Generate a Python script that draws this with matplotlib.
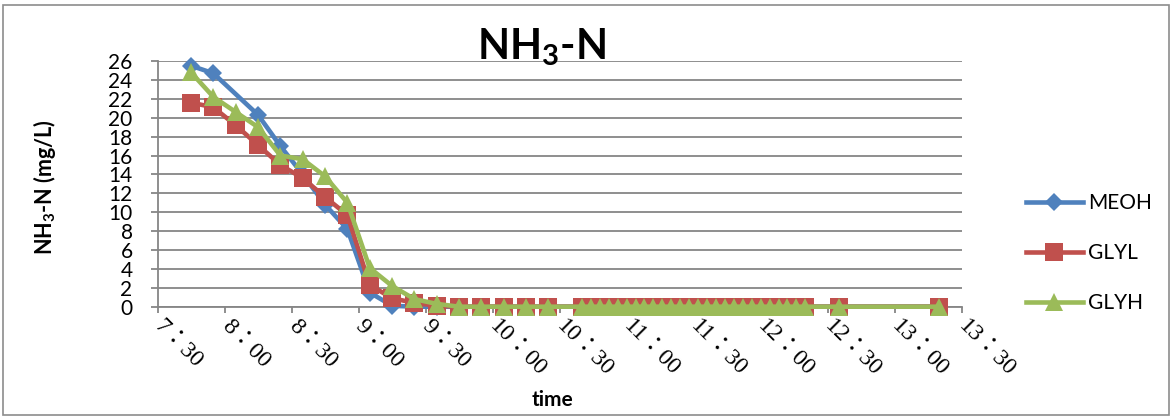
import numpy as np
import matplotlib
matplotlib.use("Agg")
import matplotlib.pyplot as plt
from matplotlib.patches import Rectangle
from matplotlib.font_manager import FontProperties

# ---- data ----
times = ['7:45', '7:55', '8:05', '8:15', '8:25', '8:35', '8:45', '8:55', '9:05', '9:15',
         '9:25', '9:35', '9:45', '9:55', '10:05', '10:15', '10:25',
         '10:40', '10:44', '10:48', '10:52', '10:56', '11:00', '11:04', '11:08', '11:12',
         '11:16', '11:20', '11:24', '11:28', '11:32', '11:36', '11:40', '11:44', '11:48',
         '11:52', '11:56', '12:00', '12:04', '12:08', '12:12', '12:16', '12:20',
         '12:35', '13:20']
nan = float('nan')
meoh = [25.5, 24.7, nan, 20.3, 17.0, 14.0, 10.8, 8.2, 1.5, 0.1,
        0, 0, 0, 0, 0, 0, 0,
        0, 0, 0, 0, 0, 0, 0, 0, 0, 0, 0, 0, 0, 0, 0, 0, 0, 0, 0, 0, 0, 0, 0, 0, 0, 0,
        0, 0]
glyl = [21.6, 21.1, 19.2, 17.1, 15.0, 13.6, 11.6, 9.7, 2.3, 0.9,
        0.4, 0.1, 0, 0, 0, 0, 0,
        0, 0, 0, 0, 0, 0, 0, 0, 0, 0, 0, 0, 0, 0, 0, 0, 0, 0, 0, 0, 0, 0, 0, 0, 0, 0,
        0, 0]
glyh = [24.8, 22.2, 20.6, 19.0, 16.0, 15.6, 13.8, 11.0, 4.1, 2.2,
        0.8, 0.3, 0, 0, 0, 0, 0,
        0, 0, 0, 0, 0, 0, 0, 0, 0, 0, 0, 0, 0, 0, 0, 0, 0, 0, 0, 0, 0, 0, 0, 0, 0, 0,
        0, 0]
series_names = ['MEOH', 'GLYL', 'GLYH']
xtick_labels = ['7:30', '8:00', '8:30', '9:00', '9:30', '10:00', '10:30', '11:00',
                '11:30', '12:00', '12:30', '13:00', '13:30']
yticks = [0, 2, 4, 6, 8, 10, 12, 14, 16, 18, 20, 22, 24, 26]


def to_min(s):
    h, m = s.split(':')
    return int(h) * 60 + int(m)


plt.rcParams['mathtext.fontset'] = 'custom'
plt.rcParams['mathtext.rm'] = 'Lato:bold'
plt.rcParams['mathtext.it'] = 'Lato:bold'
plt.rcParams['mathtext.bf'] = 'Lato:bold'

W, H = 1172, 418
fig = plt.figure(figsize=(W / 100, H / 100), dpi=100)
fig.patch.set_facecolor('white')

# outer border
fig.patches.append(Rectangle((3 / W, 3 / H), 1166 / W, 410 / H, transform=fig.transFigure,
                             fill=False, edgecolor='#8c8c8c', lw=1.2))

x0, x1 = 157.5, 961.7
y0, y1 = 306.7, 61
ax = fig.add_axes([x0 / W, 1 - y0 / H, (x1 - x0) / W, (y0 - y1) / H])

x = np.array([to_min(t) for t in times], dtype=float)
colors = ['#4F81BD', '#C0504D', '#9BBB59']
markers = ['D', 's', '^']
msizes = [9.5, 13, 13]
for name, vals, c, mk, ms in zip(series_names, [meoh, glyl, glyh], colors, markers, msizes):
    v = np.array(vals, dtype=float)
    m = ~np.isnan(v)
    ax.plot(x[m], v[m], color=c, lw=3.3, marker=mk, markersize=ms, markeredgewidth=0,
            label=name, clip_on=False, zorder=3)

ax.set_xlim(to_min('7:30'), to_min('13:30'))
ax.set_ylim(0, 26)
ax.set_yticks(yticks)
ax.set_yticklabels([str(v) for v in yticks], fontfamily='Lato', fontsize=15)
ax.set_xticks([to_min(t) for t in xtick_labels])
xfp = FontProperties(family=['Liberation Serif', 'Noto Sans CJK JP'], size=17)
ax.set_xticklabels([t.replace(':', '：') for t in xtick_labels], fontproperties=xfp,
                   rotation=-45, ha='left', va='center', rotation_mode='anchor')

grey = '#868686'
ax.yaxis.grid(True, color=grey, lw=1.3)
ax.set_axisbelow(True)
for s in ['top', 'right']:
    ax.spines[s].set_visible(False)
for s in ['left', 'bottom']:
    ax.spines[s].set_color(grey)
    ax.spines[s].set_linewidth(1.3)
ax.tick_params(axis='y', length=5, width=1.3, color=grey, pad=13)
ax.tick_params(axis='x', length=4, width=1.3, color=grey, pad=8)

fig.text(541 / W, 1 - 47 / H, r'NH$_3$-N', fontfamily='Lato', fontweight='bold',
         fontsize=30, ha='center', va='center')
fig.text(45 / W, 1 - 187 / H, r'NH$_3$-N (mg/L)', fontfamily='Lato', fontweight='bold',
         fontsize=15.5, ha='center', va='center', rotation=90)
fig.text(553 / W, 1 - 400 / H, 'time', fontfamily='Lato', fontweight='bold',
         fontsize=15, ha='center', va='center')

fig.legend(loc='center left', bbox_to_anchor=(1018 / W, 1 - 253 / H), frameon=False,
           prop={'family': 'Lato', 'size': 15}, handlelength=2.7, handletextpad=0.25,
           labelspacing=1.45, borderaxespad=0)

fig.savefig('out.png', dpi=100)
